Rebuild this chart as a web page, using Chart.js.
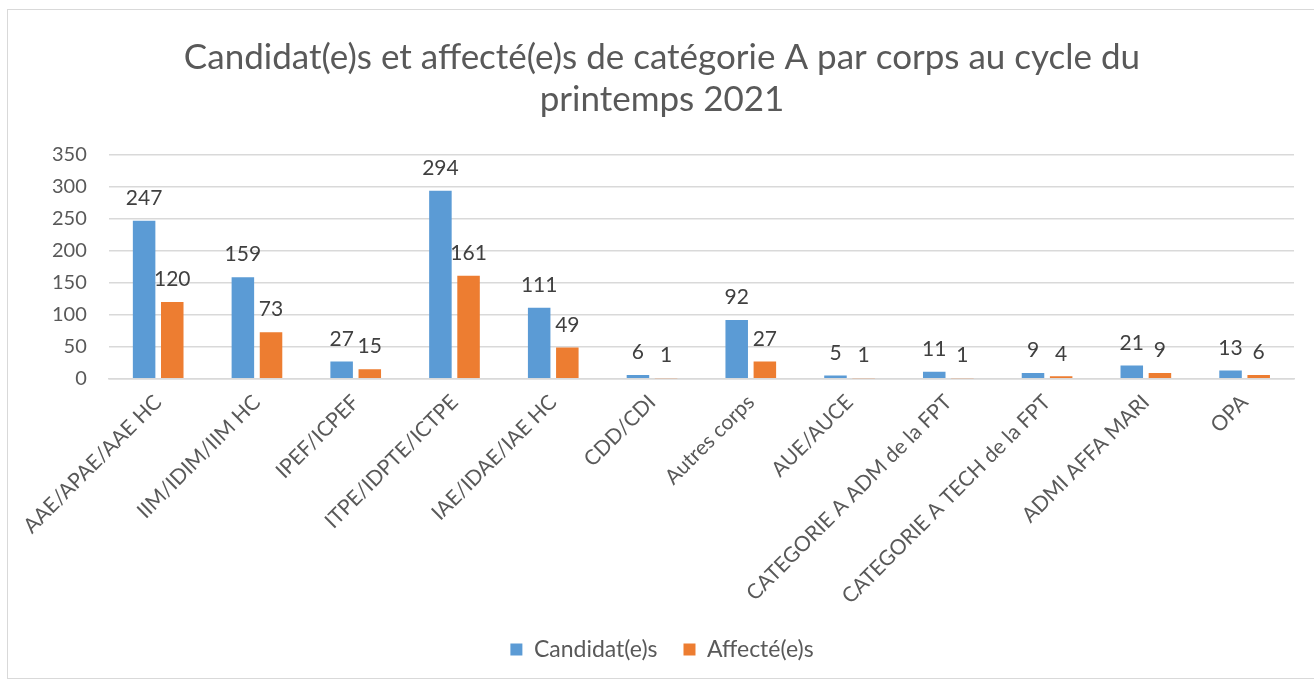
<!DOCTYPE html>
<html>
<head>
<meta charset="utf-8">
<script src="https://cdn.jsdelivr.net/npm/chart.js@4"></script>
<style>
  body { margin: 0; background: #fff; }
  #cadre { position: absolute; left: 0; top: 0; width: 1314px; height: 681px; }
  #bord { position: absolute; left: 7px; top: 9px; width: 1320px; height: 668px; border: 1px solid #d9d9d9; }
</style>
</head>
<body>
<div id="cadre">
  <div id="bord"></div>
  <canvas id="monGraphique" width="1314" height="681"></canvas>
</div>
<script>
// Données du graphique
const categories = [
    'AAE/APAE/AAE HC', 'IIM/IDIM/IIM HC', 'IPEF/ICPEF', 'ITPE/IDPTE/ICTPE',
    'IAE/IDAE/IAE HC', 'CDD/CDI', 'Autres corps', 'AUE/AUCE',
    'CATEGORIE A ADM de la FPT', 'CATEGORIE A TECH de la FPT', 'ADMI AFFA MARI', 'OPA'
];
const candidats = [247, 159, 27, 294, 111, 6, 92, 5, 11, 9, 21, 13];
const affectes = [120, 73, 15, 161, 49, 1, 27, 1, 1, 4, 9, 6];
const titre = ['Candidat(e)s et affecté(e)s de catégorie A par corps au cycle du', 'printemps 2021'];

const police = 'Lato, "Open Sans", sans-serif';
const gris = '#595959';

// Étiquettes de valeurs au-dessus des barres
const etiquettes = {
    id: 'etiquettes',
    afterDatasetsDraw(chart) {
        const ctx = chart.ctx;
        ctx.save();
        ctx.font = '21px ' + police;
        ctx.fillStyle = '#404040';
        ctx.textAlign = 'center';
        ctx.textBaseline = 'bottom';
        chart.data.datasets.forEach((ds, i) => {
            chart.getDatasetMeta(i).data.forEach((barre, j) => {
                ctx.fillText(ds.data[j], barre.x, barre.y - 12);
            });
        });
        ctx.restore();
    }
};

const ctx = document.getElementById('monGraphique').getContext('2d');
new Chart(ctx, {
    type: 'bar',
    data: {
        labels: categories,
        datasets: [
            { label: 'Candidat(e)s', data: candidats, backgroundColor: '#5B9BD5' },
            { label: 'Affecté(e)s', data: affectes, backgroundColor: '#ED7D31' }
        ]
    },
    options: {
        responsive: false,
        animation: false,
        categoryPercentage: 0.57,
        barPercentage: 0.8,
        layout: { padding: { left: 30, right: 20, top: 10, bottom: 10 } },
        scales: {
            x: {
                grid: { display: false },
                border: { color: '#d9d9d9', width: 1.5 },
                ticks: {
                    color: gris,
                    font: { family: police, size: 21 },
                    minRotation: 45,
                    maxRotation: 45,
                    autoSkip: false
                }
            },
            y: {
                min: 0,
                max: 350,
                grid: { color: '#d9d9d9', drawTicks: false, lineWidth: 1.5 },
                border: { display: false },
                ticks: {
                    stepSize: 50,
                    color: gris,
                    padding: 22,
                    font: { family: police, size: 20 }
                }
            }
        },
        plugins: {
            title: {
                display: true,
                text: titre,
                color: gris,
                font: { family: police, size: 35, weight: 'normal', lineHeight: 1.2 },
                padding: { top: 27, bottom: 34 }
            },
            legend: {
                position: 'bottom',
                labels: {
                    color: gris,
                    font: { family: police, size: 23 },
                    boxWidth: 12,
                    boxHeight: 12,
                    padding: 26
                }
            },
            tooltip: { enabled: false }
        }
    },
    plugins: [etiquettes]
});
</script>
</body>
</html>
